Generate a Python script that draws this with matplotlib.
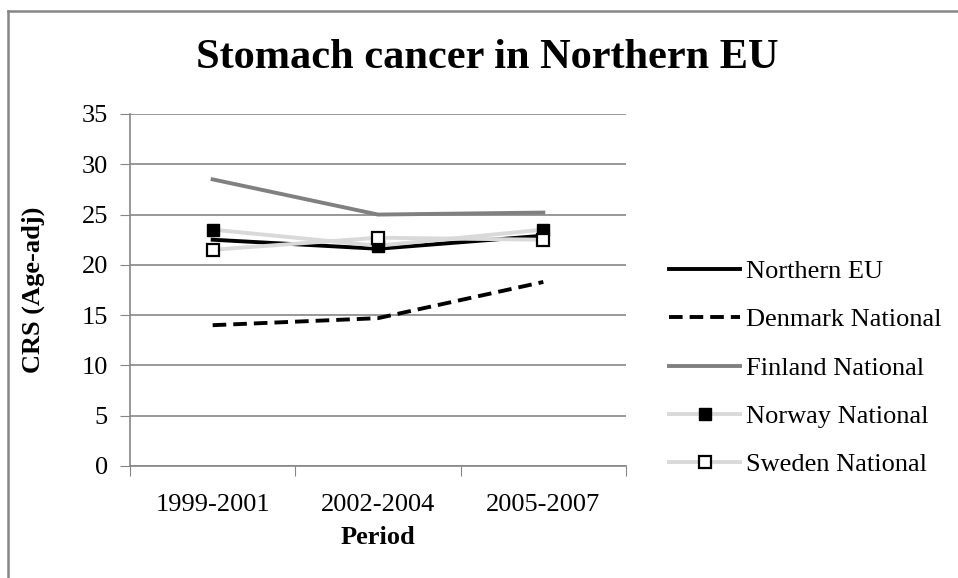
import matplotlib
matplotlib.use("Agg")
import matplotlib.pyplot as plt
from matplotlib.lines import Line2D

periods = ["1999-2001", "2002-2004", "2005-2007"]
northern_eu = [22.5, 21.6, 22.9]
denmark = [14.0, 14.7, 18.3]
finland = [28.5, 25.0, 25.2]
norway = [23.5, 21.9, 23.5]
sweden = [21.5, 22.7, 22.5]
yticks = [0, 5, 10, 15, 20, 25, 30, 35]

plt.rcParams['font.family'] = ['Liberation Serif', 'DejaVu Serif']

fig = plt.figure(figsize=(9.58, 5.78), dpi=100)
ax = fig.add_axes([130/958, 1-466/578, (626-130)/958, (466-114)/578])

x = [0.5, 1.5, 2.5]
lw = 2.8
ax.plot(x, northern_eu, color='black', lw=lw, label='Northern EU', zorder=3)
ax.plot(x, denmark, color='black', lw=lw, dashes=(3.5, 1.8), label='Denmark National', zorder=3)
ax.plot(x, finland, color='#808080', lw=lw, label='Finland National', zorder=3)
ax.plot(x, norway, color='#d9d9d9', lw=lw, marker='s', markersize=8,
        markerfacecolor='black', markeredgecolor='black', label='Norway National', zorder=3)
ax.plot(x, sweden, color='#d9d9d9', lw=lw, marker='s', markersize=8,
        markerfacecolor='white', markeredgecolor='black', markeredgewidth=1.6,
        label='Sweden National', zorder=3)

fs = 19
ax.set_xlim(0, 3)
ax.set_ylim(0, 35)
ax.set_yticks(yticks)
ax.set_yticklabels([str(v) for v in yticks], fontsize=fs)
ax.set_xticks([0, 1, 2, 3])
ax.set_xticklabels([])
ax.set_xticks(x, minor=True)
ax.set_xticklabels(periods, minor=True, fontsize=fs)
ax.tick_params(axis='x', which='minor', length=0, pad=20)
ax.tick_params(axis='x', which='major', length=7, color='#868686', direction='out')
ax.tick_params(axis='y', length=7, color='#868686', direction='out', pad=9)
ax.grid(axis='y', color='#868686', lw=1.2)
ax.set_axisbelow(True)
for s in ['top', 'right']:
    ax.spines[s].set_visible(False)
for s in ['left', 'bottom']:
    ax.spines[s].set_color('#868686')
    ax.spines[s].set_linewidth(1.2)

ax.set_xlabel('Period', fontsize=fs, fontweight='bold')
ax.xaxis.set_label_coords(0.5, (466-537)/352, transform=ax.transAxes)
ax.xaxis.label.set_va('center')
ax.set_ylabel('CRS (Age-adj)', fontsize=fs, fontweight='bold')
ax.yaxis.set_label_coords((33-130)/496, 0.5, transform=ax.transAxes)
ax.yaxis.label.set_va('center')

fig.text(487/958, 1-58/578, 'Stomach cancer in Northern EU', fontsize=30.5,
         fontweight='bold', ha='center', va='center')

fig.legend(loc='center left', bbox_to_anchor=(669/958, 1-368/578), frameon=False,
           fontsize=fs, handlelength=2.7, handletextpad=0.2, labelspacing=0.94,
           borderaxespad=0, borderpad=0)

fig.add_artist(Line2D([8/958, 1], [1-11/578, 1-11/578], color='#868686', lw=1.8))
fig.add_artist(Line2D([8/958, 8/958], [0, 1-11/578], color='#868686', lw=1.8))

fig.savefig('out.png', dpi=100)
